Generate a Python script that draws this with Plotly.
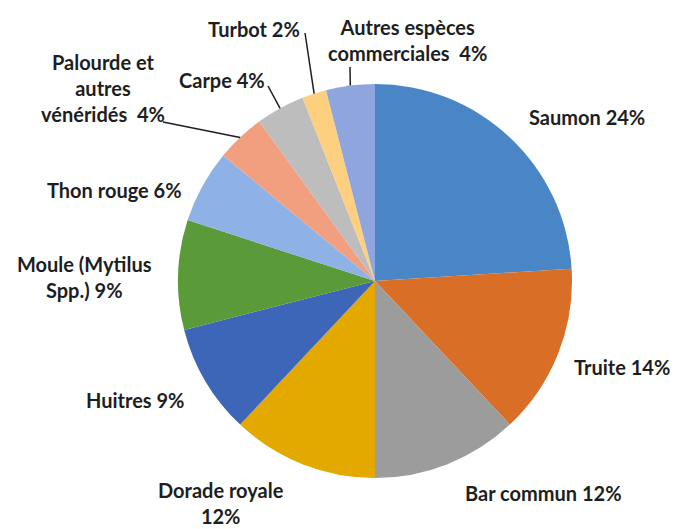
import math
import plotly.graph_objects as go

categories = ["Saumon", "Truite", "Bar commun", "Dorade royale", "Huitres",
              "Moule (Mytilus Spp.)", "Thon rouge", "Palourde et autres vénéridés",
              "Carpe", "Turbot", "Autres espèces commerciales"]
shares = [24, 14, 12, 12, 9, 9, 6, 4, 4, 2, 4]
label_texts = ["Saumon 24%", "Truite 14%", "Bar commun 12%", "Dorade royale<br>12%",
               "Huitres 9%", "Moule (Mytilus<br>Spp.) 9%", "Thon rouge 6%",
               "Palourde et<br>autres<br>vénéridés  4%", "Carpe 4%", "Turbot 2%",
               "Autres espèces<br>commerciales  4%"]
colors = ["#4a86c5", "#d96f26", "#9c9c9c", "#e4a900", "#3d65b8", "#5a9a38",
          "#8eb2e5", "#f29f7f", "#bdbdbd", "#fdd07f", "#8fa5de"]

# page body has an 8px margin, so the figure is drawn 8px in from the corner
OFF = 8
W, H = 680 - OFF, 529 - OFF
cx, cy, R = 375 - OFF, 281 - OFF, 197


def px_to_paper(x, y):
    return (x - OFF) / W, 1 - (y - OFF) / H


fig = go.Figure(go.Pie(
    labels=categories,
    values=shares,
    sort=False,
    direction="clockwise",
    rotation=0,
    marker=dict(colors=colors, line=dict(width=0)),
    textinfo="none",
    hoverinfo="label+percent",
    domain=dict(x=[(cx - R) / W, (cx + R) / W],
                y=[(H - cy - R) / H, (H - cy + R) / H]),
    showlegend=False,
))

# label centres (screen pixels) - layout only
label_pos = [(587, 117), (622, 367), (543, 493), (221, 503), (135, 400),
             (84, 277), (114, 190), (103, 88), (222, 80), (254, 29), (407, 40)]

font = dict(family="Lato", size=20, color="#1e1e1e")
for txt, (sx, sy) in zip(label_texts, label_pos):
    ax, ay = px_to_paper(sx, sy)
    fig.add_annotation(x=ax, y=ay, xref="paper", yref="paper",
                       xanchor="center", yanchor="middle", borderpad=0,
                       text="<b>" + txt + "</b>", showarrow=False, font=font,
                       align="center")

# leader lines from slice edge to label
leader_ends = {7: (163, 122), 8: (268, 86), 9: (305, 33), 10: (350, 67)}
total = sum(shares)
cum = 0
for i, v in enumerate(shares):
    mid = (cum + v / 2) / total * 2 * math.pi
    cum += v
    if i in leader_ends:
        ex = cx + OFF + R * math.sin(mid)
        ey = cy + OFF - R * math.cos(mid)
        x0, y0 = px_to_paper(ex, ey)
        x1, y1 = px_to_paper(*leader_ends[i])
        fig.add_shape(type="line", xref="paper", yref="paper",
                      x0=x0, y0=y0, x1=x1, y1=y1,
                      line=dict(color="#1e1e1e", width=1.5))

fig.update_layout(width=W, height=H, margin=dict(l=0, r=0, t=0, b=0),
                  paper_bgcolor="white", plot_bgcolor="white")

fig.write_html("out.html")
